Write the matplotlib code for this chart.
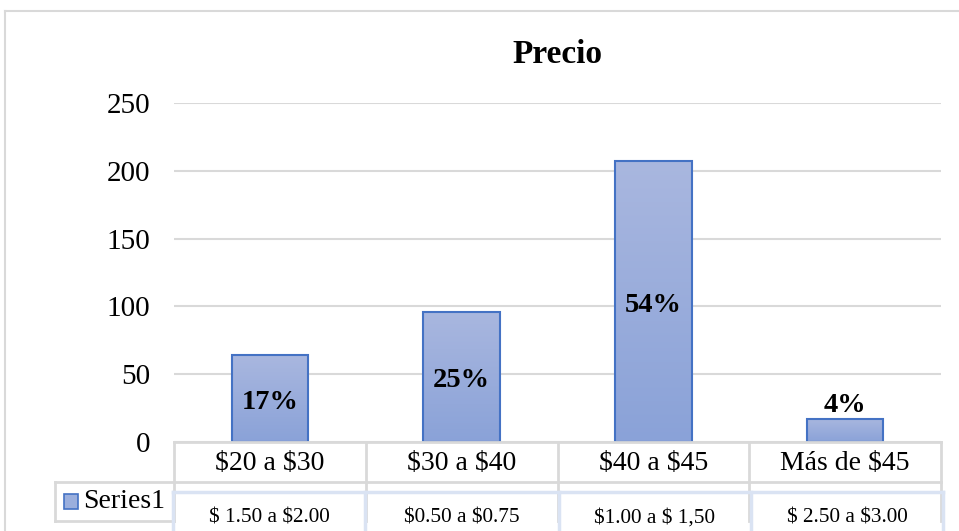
import numpy as np
import matplotlib
matplotlib.use("Agg")
import matplotlib.pyplot as plt
from matplotlib.lines import Line2D
from matplotlib.patches import Rectangle
from matplotlib.colors import LinearSegmentedColormap
from matplotlib.transforms import offset_copy

categories = ["$20 a $30", "$30 a $40", "$40 a $45", "Más de $45"]
values = [64, 96, 207, 17]
pct_labels = ["17%", "25%", "54%", "4%"]
price_ranges = ["$ 1.50 a $2.00", "$0.50 a $0.75", "$1.00 a $ 1,50", "$ 2.50 a $3.00"]
series_name = "Series1"
title = "Precio"
yticks = [0, 50, 100, 150, 200, 250]

W, H = 959, 531
plt.rcParams['font.family'] = ['Liberation Serif', 'DejaVu Serif']
plt.rcParams['text.parse_math'] = False
fig = plt.figure(figsize=(W/100, H/100), dpi=100)

def fx(px):
    return px / W

def fy(py):
    return 1 - py / H

ax_l, ax_r, ax_t, ax_b = 174, 941, 103, 442
ax = fig.add_axes([fx(ax_l), fy(ax_b), fx(ax_r) - fx(ax_l), fy(ax_t) - fy(ax_b)])

grid_c = "#d9d9d9"
edge_c = "#4472c4"
cmap = LinearSegmentedColormap.from_list("g", ["#8aa2d8", "#a9b7df"])

x = np.arange(len(categories))
bars = ax.bar(x, values, width=0.4, color="none", edgecolor=edge_c, linewidth=1.5, zorder=3)
grad = np.linspace(0, 1, 256).reshape(-1, 1)
for b in bars:
    x0, w, h = b.get_x(), b.get_width(), b.get_height()
    im = ax.imshow(grad, cmap=cmap, aspect='auto', origin='lower',
                   extent=[x0, x0 + w, 0, h], zorder=2)
    im.set_clip_path(b)

ax.set_xlim(-0.5, len(categories) - 0.5)
ax.set_ylim(0, 250)
ax.set_yticks(yticks)
ax.tick_params(axis='y', length=0, pad=17, labelsize=21)
ax.set_xticks([])
for s in ax.spines.values():
    s.set_visible(False)
ax.yaxis.grid(True, color=grid_c, linewidth=1.5, zorder=0)
ax.set_axisbelow(True)

# data labels
lbl_tr = offset_copy(ax.transData, fig=fig, x=0, y=-4, units='dots')
for i, (v, lab) in enumerate(zip(values, pct_labels)):
    if v > 40:
        ax.text(i, v / 2, lab, ha='center', va='center', fontsize=20.5, fontweight='bold',
                zorder=5, transform=lbl_tr)
    else:
        ax.text(i, v + 4, lab, ha='center', va='bottom', fontsize=20.5, fontweight='bold',
                zorder=5, transform=lbl_tr)

ax.set_title(title, fontsize=24, fontweight='bold', pad=29)

# chart border
fig.add_artist(Line2D([fx(5), fx(5)], [fy(11), 0], color=grid_c, lw=1.5))
fig.add_artist(Line2D([fx(5), 1], [fy(11), fy(11)], color=grid_c, lw=1.5))

# data table (gray)
tx = ax.get_xaxis_transform()
row1_b = -(482 - ax_b) / (ax_b - ax_t)
row2_b = -(521 - ax_b) / (ax_b - ax_t)
ax.plot([-0.5, 3.5], [0, 0], color=grid_c, lw=2, transform=tx, clip_on=False, zorder=4)
ax.plot([-0.5, 3.5], [row1_b, row1_b], color=grid_c, lw=2, transform=tx, clip_on=False)
for k in range(len(categories) + 1):
    ax.plot([k - 0.5, k - 0.5], [0, row2_b], color=grid_c, lw=2, transform=tx, clip_on=False)
cat_tr = offset_copy(tx, fig=fig, x=0, y=-2, units='dots')
for i, c in enumerate(categories):
    ax.text(i, row1_b / 2, c, ha='center', va='center', fontsize=20, transform=cat_tr)

# legend cell
fig.add_artist(Line2D([fx(55), fx(174)], [fy(482), fy(482)], color=grid_c, lw=2))
fig.add_artist(Line2D([fx(55), fx(174)], [fy(521), fy(521)], color=grid_c, lw=2))
fig.add_artist(Line2D([fx(55), fx(55)], [fy(482), fy(521)], color=grid_c, lw=2))
fig.add_artist(Rectangle((fx(64), fy(509)), fx(14), fy(494) - fy(509), transform=fig.transFigure,
                         facecolor="#9bafdd", edgecolor=edge_c, lw=1.2))
fig.text(fx(83), fy(502), series_name, ha='left', va='center', fontsize=20)

# overlaid blue table
blue_c = "#dae3f3"
fig.add_artist(Line2D([fx(173), fx(943)], [fy(492), fy(492)], color=blue_c, lw=2.5))
cols = [173, 365, 559, 751, 943]
for px in cols:
    fig.add_artist(Line2D([fx(px), fx(px)], [fy(492), 0], color=blue_c, lw=2.5))
for i, r in enumerate(price_ranges):
    fig.text(fx((cols[i] + cols[i + 1]) / 2), fy(518), r, ha='center', va='center', fontsize=15.3)

fig.savefig("out.png", dpi=100, facecolor='white')
